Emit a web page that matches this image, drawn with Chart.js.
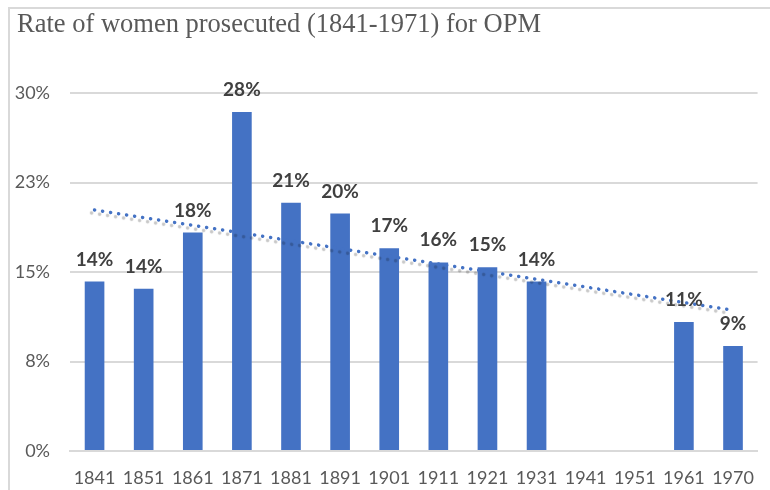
<!DOCTYPE html>
<html lang="en">
<head>
    <meta charset="UTF-8">
    <title>Rate of women prosecuted (1841-1971) for OPM</title>
    <script src="https://cdn.jsdelivr.net/npm/chart.js"></script>
    <style>
        body {
            margin: 0;
            background: #fff;
        }

        .wrap {
            position: relative;
            width: 770px;
            height: 490px;
            overflow: hidden;
        }

        .frame {
            position: absolute;
            left: 8px;
            top: 7px;
            width: 800px;
            height: 600px;
            border-left: 2px solid #d9d9d9;
            border-top: 2px solid #d9d9d9;
        }

        canvas {
            position: absolute;
            left: 0;
            top: 0;
        }
    </style>
</head>
<body>
    <div class="wrap">
        <div class="frame"></div>
        <canvas id="chart" width="770" height="490"></canvas>
    </div>

    <script>
        // data
        const years = ['1841', '1851', '1861', '1871', '1881', '1891', '1901', '1911', '1921', '1931', '1941', '1951', '1961', '1970'];
        const rates = [14.2, 13.6, 18.3, 28.4, 20.8, 19.9, 17.0, 15.8, 15.4, 14.2, null, null, 10.8, 8.8];
        const trendEnds = [20.2, 11.8]; // trendline at first and last year
        const yTicks = [0, 7.5, 15, 22.5, 30];
        const titleText = 'Rate of women prosecuted (1841-1971) for OPM';

        const trendData = years.map((y, i) => {
            if (i === 0) return trendEnds[0];
            if (i === years.length - 1) return trendEnds[1];
            return null;
        });

        const blue = '#4472C4';
        const labelFont = 'Lato, "Open Sans", sans-serif';

        // title drawn by hand so it can sit at the left edge
        const titlePlugin = {
            id: 'titlePlugin',
            afterDraw(chart) {
                const ctx = chart.ctx;
                ctx.save();
                ctx.font = '26.5px "Liberation Serif", "DejaVu Serif", serif';
                ctx.fillStyle = '#595959';
                ctx.textAlign = 'left';
                ctx.textBaseline = 'alphabetic';
                ctx.fillText(titleText, 17, 32);
                ctx.restore();
            }
        };

        // value labels above the bars
        const barLabels = {
            id: 'barLabels',
            afterDatasetsDraw(chart) {
                const ctx = chart.ctx;
                const meta = chart.getDatasetMeta(0);
                ctx.save();
                ctx.font = 'bold 19px ' + labelFont;
                ctx.fillStyle = '#404040';
                ctx.textAlign = 'center';
                ctx.textBaseline = 'alphabetic';
                meta.data.forEach((bar, i) => {
                    const v = rates[i];
                    if (v == null) return;
                    ctx.fillText(Math.round(v) + '%', bar.x, bar.y - 16);
                });
                ctx.restore();
            }
        };

        // grey shadow under the trendline
        const trendShadow = {
            id: 'trendShadow',
            beforeDatasetDraw(chart, args) {
                if (args.index !== 1) return;
                const ctx = chart.ctx;
                ctx.save();
                ctx.shadowColor = 'rgba(0, 0, 0, 0.22)';
                ctx.shadowOffsetX = -3;
                ctx.shadowOffsetY = 3;
                ctx.shadowBlur = 1;
            },
            afterDatasetDraw(chart, args) {
                if (args.index !== 1) return;
                chart.ctx.restore();
            }
        };

        new Chart(document.getElementById('chart'), {
            type: 'bar',
            data: {
                labels: years,
                datasets: [{
                    label: 'Rate',
                    data: rates,
                    backgroundColor: blue,
                    barPercentage: 0.4,
                    categoryPercentage: 1,
                    order: 2
                }, {
                    type: 'line',
                    label: 'Trend',
                    data: trendData,
                    spanGaps: true,
                    borderColor: blue,
                    borderWidth: 3.5,
                    borderDash: [0.1, 8],
                    borderCapStyle: 'round',
                    pointRadius: 0,
                    fill: false,
                    order: 1
                }]
            },
            options: {
                responsive: false,
                animation: false,
                layout: {
                    padding: { left: 0, right: 3, top: 93, bottom: 0 }
                },
                plugins: {
                    legend: { display: false },
                    tooltip: { enabled: false },
                    title: { display: false }
                },
                scales: {
                    x: {
                        afterFit(axis) {
                            axis.height = 39;
                        },
                        grid: { display: false, drawTicks: false },
                        border: { color: '#d9d9d9', width: 2 },
                        ticks: {
                            color: '#595959',
                            font: { family: labelFont, size: 18 },
                            padding: 16,
                            maxRotation: 0,
                            autoSkip: false
                        }
                    },
                    y: {
                        min: 0,
                        max: 30,
                        afterBuildTicks(axis) {
                            axis.ticks = yTicks.map(v => ({ value: v }));
                        },
                        afterFit(axis) {
                            axis.width = 70;
                        },
                        grid: { color: '#d9d9d9', lineWidth: 2, drawTicks: false },
                        border: { display: false },
                        ticks: {
                            color: '#595959',
                            font: { family: labelFont, size: 18 },
                            padding: 20,
                            callback: v => Math.round(v) + '%'
                        }
                    }
                }
            },
            plugins: [barLabels, trendShadow, titlePlugin]
        });
    </script>
</body>
</html>
